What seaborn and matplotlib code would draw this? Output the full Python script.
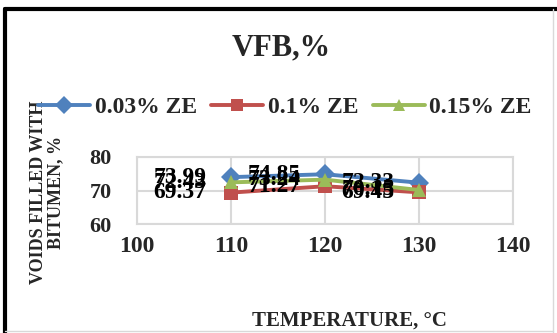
import numpy as np
import pandas as pd
import matplotlib
matplotlib.use("Agg")
import matplotlib.pyplot as plt
from matplotlib.lines import Line2D
import seaborn as sns

# data
temps = [110, 120, 130]
series = ["0.03% ZE", "0.1% ZE", "0.15% ZE"]
vfb_003 = [73.99, 74.85, 72.33]
vfb_01 = [69.37, 71.27, 69.45]
vfb_015 = [72.43, 73.24, 70.15]
x_ticks = [100, 110, 120, 130, 140]
y_ticks = [60, 70, 80]

colors = ["#4F81BD", "#C0504D", "#9BBB59"]
markers = ["D", "s", "^"]

df = pd.DataFrame({
    "Temperature": temps * 3,
    "VFB": vfb_003 + vfb_01 + vfb_015,
    "Mix": [s for s in series for _ in temps],
})

sns.set_style("white")
plt.rcParams["font.family"] = ["Liberation Serif", "DejaVu Serif"]
plt.rcParams["font.weight"] = "bold"

fig = plt.figure(figsize=(5.57, 3.33), dpi=100)
ax = fig.add_axes([137 / 557, 1 - 224 / 333, (513 - 137) / 557, (224 - 157) / 333])

sns.lineplot(data=df, x="Temperature", y="VFB", hue="Mix", style="Mix",
             hue_order=series, style_order=series,
             palette=colors, markers=dict(zip(series, markers)), dashes=False,
             linewidth=2.8, markersize=10, markeredgewidth=0, ax=ax, legend=False)

# data labels (Excel put them shifted left of the points)
for vals in [vfb_003, vfb_01, vfb_015]:
    for t, v in zip(temps, vals):
        ax.text(t - 5.4, v, f"{v:.2f}", ha="center", va="center",
                fontsize=17, fontweight="bold", color="black")

ax.set_xlim(100, 140)
ax.set_ylim(60, 80)
ax.set_xticks(x_ticks)
ax.set_yticks(y_ticks)
ax.tick_params(axis="x", labelsize=17, length=0, pad=9)
ax.tick_params(axis="y", labelsize=16, length=0, pad=18)
for lab in ax.get_xticklabels() + ax.get_yticklabels():
    lab.set_fontweight("bold")
ax.grid(True, color="#D9D9D9", linewidth=1.5)
for sp in ax.spines.values():
    sp.set_color("#D9D9D9")
    sp.set_linewidth(1.5)
ax.set_xlabel("")
ax.set_ylabel("")

fig.text(281 / 557, 1 - 48 / 333, "VFB,%", ha="center", va="center",
         fontsize=22, fontweight="bold")
fig.text(349 / 557, 1 - 321 / 333, "TEMPERATURE, °C", ha="center", va="center",
         fontsize=15, fontweight="bold")
fig.text(47 / 557, 1 - 192 / 333, "VOIDS FILLED WITH\nBITUMEN, %", ha="center",
         va="center", rotation=90, fontsize=13, fontweight="bold", linespacing=1.0)

handles = [Line2D([], [], color=c, marker=m, linewidth=2.8, markersize=9,
                  markeredgewidth=0) for c, m in zip(colors, markers)]
fig.legend(handles, series, loc="center", bbox_to_anchor=(285 / 557, 1 - 107 / 333),
           ncol=3, frameon=False, handlelength=2.2, handletextpad=0.2,
           columnspacing=0.6, prop={"size": 17, "weight": "bold"})

# outer frame
fig.add_artist(Line2D([5 / 557, 5 / 557], [0, 1 - 9 / 333], color="black", linewidth=3))
fig.add_artist(Line2D([5 / 557, 1], [1 - 9 / 333, 1 - 9 / 333], color="black", linewidth=3))
fig.add_artist(Line2D([553 / 557, 553 / 557], [0, 1 - 9 / 333], color="#D9D9D9", linewidth=1))
fig.add_artist(Line2D([5 / 557, 553 / 557], [2 / 333, 2 / 333], color="#D9D9D9", linewidth=1))

fig.savefig("out.png", dpi=100)
